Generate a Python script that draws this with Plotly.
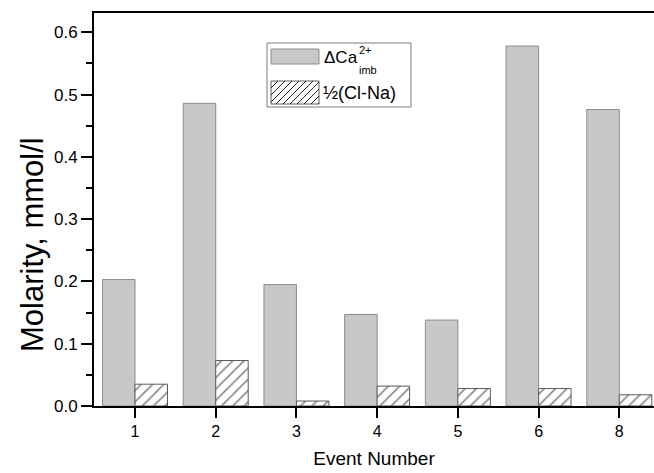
import plotly.graph_objects as go

# Event categories and measured molarities (mmol/l)
events = ["1", "2", "3", "4", "5", "6", "8"]
delta_ca_imb = [0.203, 0.486, 0.195, 0.147, 0.138, 0.578, 0.476]
half_cl_na = [0.035, 0.073, 0.008, 0.032, 0.028, 0.028, 0.018]

y_ticks = [0.0, 0.1, 0.2, 0.3, 0.4, 0.5, 0.6]

W, H = 654, 473
L, R, T, B = 94, 0, 13, 67
FONT = "Liberation Sans, Arial, sans-serif"

fig = go.Figure()
fig.add_trace(go.Bar(
    x=events, y=delta_ca_imb, name="ΔCa",
    marker=dict(color="#c8c8c8", line=dict(color="#8c8c8c", width=1)),
    showlegend=False,
))
fig.add_trace(go.Bar(
    x=events, y=half_cl_na, name="½(Cl-Na)",
    marker=dict(color="white", line=dict(color="#5a5a5a", width=1),
                pattern=dict(shape="/", fgcolor="#111111", bgcolor="white",
                             size=8, solidity=0.2)),
    showlegend=False,
))

# pixel -> paper helpers for the hand-drawn legend
pw, ph = W - L - R, H - T - B
def px(x):
    return (x - L) / pw
def py(y):
    return (H - B - y) / ph

shapes = []
# legend frame
shapes.append(dict(type="rect", xref="paper", yref="paper",
                   x0=px(267), x1=px(411), y0=py(107), y1=py(43),
                   line=dict(color="#7a7a7a", width=1), fillcolor="white", layer="above"))
# solid swatch
shapes.append(dict(type="rect", xref="paper", yref="paper",
                   x0=px(271), x1=px(319), y0=py(64), y1=py(49),
                   line=dict(color="#8c8c8c", width=1), fillcolor="#c8c8c8", layer="above"))
# hatched swatch
sx0, sx1, sy0, sy1 = 271, 319, 81, 104
shapes.append(dict(type="rect", xref="paper", yref="paper",
                   x0=px(sx0), x1=px(sx1), y0=py(sy1), y1=py(sy0),
                   line=dict(color="#5a5a5a", width=1), fillcolor="white", layer="above"))
hgt = sy1 - sy0
step = 7
c = sx0 - hgt
while c < sx1:
    # line from bottom (c, sy1) rising to top (c + hgt, sy0), clipped to swatch
    xa, ya = c, sy1
    xb, yb = c + hgt, sy0
    if xa < sx0:
        ya = sy1 - (sx0 - xa)
        xa = sx0
    if xb > sx1:
        yb = sy0 + (xb - sx1)
        xb = sx1
    if xb > xa:
        shapes.append(dict(type="line", xref="paper", yref="paper",
                           x0=px(xa), y0=py(ya), x1=px(xb), y1=py(yb),
                           line=dict(color="#222222", width=1), layer="above"))
    c += step

annotations = [
    dict(text="ΔCa", x=px(322), y=py(58), xref="paper", yref="paper",
         xanchor="left", yanchor="middle", showarrow=False,
         font=dict(family=FONT, size=17, color="black")),
    dict(text="2+", x=px(357), y=py(50), xref="paper", yref="paper",
         xanchor="left", yanchor="middle", showarrow=False,
         font=dict(family=FONT, size=11, color="black")),
    dict(text="imb", x=px(357), y=py(70), xref="paper", yref="paper",
         xanchor="left", yanchor="middle", showarrow=False,
         font=dict(family=FONT, size=11, color="black")),
    dict(text="½(Cl-Na)", x=px(321), y=py(93), xref="paper", yref="paper",
         xanchor="left", yanchor="middle", showarrow=False,
         font=dict(family=FONT, size=18, color="black")),
    dict(text="Molarity, mmol/l", x=px(33), y=py(245), xref="paper", yref="paper",
         xanchor="center", yanchor="middle", textangle=-90, showarrow=False,
         font=dict(family=FONT, size=31, color="black")),
]

fig.update_layout(
    width=W, height=H,
    margin=dict(l=L, r=R, t=T, b=B, pad=0),
    paper_bgcolor="white", plot_bgcolor="white",
    barmode="group", bargap=0.195, bargroupgap=0,
    font=dict(family=FONT, size=16, color="black"),
    shapes=shapes, annotations=annotations,
    showlegend=False,
)
fig.update_xaxes(
    type="category", categoryorder="array", categoryarray=events,
    range=[-0.508, 6.43],
    showline=True, linecolor="black", linewidth=2, mirror=True,
    ticks="outside", ticklen=10, tickwidth=1.5, tickcolor="black",
    showgrid=False, zeroline=False,
    tickfont=dict(family=FONT, size=16),
    title=dict(text="Event Number", font=dict(family=FONT, size=19), standoff=12),
)
fig.update_yaxes(
    range=[0, 0.631], tickvals=y_ticks, ticktext=[f"{v:.1f}" for v in y_ticks],
    showline=True, linecolor="black", linewidth=2, mirror=False,
    ticks="outside", ticklen=11, tickwidth=1.5, tickcolor="black",
    minor=dict(dtick=0.05, ticks="outside", ticklen=6, tickwidth=1.5,
               tickcolor="black", showgrid=False),
    showgrid=False, zeroline=False,
    tickfont=dict(family=FONT, size=17),
)

fig.write_html("out.html")
